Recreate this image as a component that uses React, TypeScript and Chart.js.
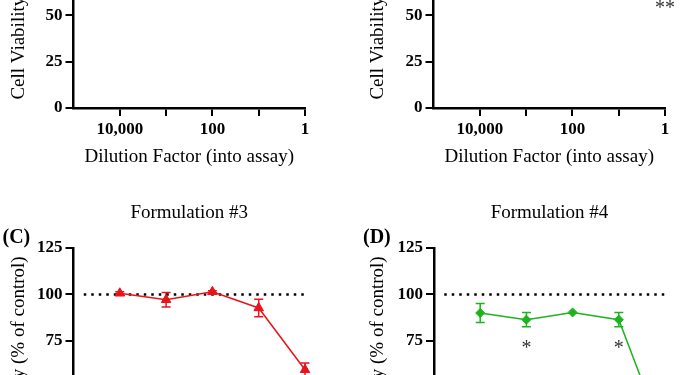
import React, { useEffect, useRef } from 'react';
import { Chart, registerables } from 'chart.js';

Chart.register(...registerables);

// ---------- data ----------
const dilutionFactors = [10000, 1000, 100, 10, 1];
const xTickValues = [10000, 1000, 100, 10, 1];
const xTickLabels = ['10,000', '', '100', '', '1'];
const xMin = 1;
const xMax = 100000;
const yMin = 0;
const yMax = 125;
const yStep = 25;
const controlLevel = 100;
const controlLineFrom = 60000;
const controlLineTo = 1;

const xAxisTitle = 'Dilution Factor (into assay)';
const yAxisTitle = 'Cell Viability (% of control)';

// Formulation #3 (panel C)
const f3Mean = [100.6, 97.1, 101.4, 92.7, 59.4];
const f3Err = [0.8, 3.9, 0.6, 4.7, 3.6];
// Formulation #4 (panel D)
const f4Mean = [90.0, 86.4, 90.3, 86.4, 21.0];
const f4Err = [5.1, 3.8, 0, 3.8, 4.0];
const f4SigDilutions = [1000, 10];
const f4SigLevels = [70.5, 70.5];
const f4SigLabels = ['*', '*'];
// panel B significance mark
const f2SigDilutions = [1];
const f2SigLevels = [53.5];
const f2SigLabels = ['**'];

const FONT = "'Liberation Serif', 'Times New Roman', serif";

const decorPlugin = {
  id: 'decor',
  beforeDatasetsDraw(chart: any) {
    const ctx = chart.ctx;
    const xs = chart.scales.x;
    const ys = chart.scales.y;
    chart.data.datasets.forEach((ds: any) => {
      const errs = ds.errorBars;
      if (!errs) return;
      ctx.save();
      ctx.strokeStyle = ds.borderColor;
      ctx.lineWidth = 1.5;
      ds.data.forEach((p: any, j: number) => {
        const e = errs[j];
        if (!e) return;
        const px = xs.getPixelForValue(p.x);
        const y1 = ys.getPixelForValue(p.y + e);
        const y2 = ys.getPixelForValue(p.y - e);
        ctx.beginPath();
        ctx.moveTo(px, y1);
        ctx.lineTo(px, y2);
        ctx.moveTo(px - 4.5, y1);
        ctx.lineTo(px + 4.5, y1);
        ctx.moveTo(px - 4.5, y2);
        ctx.lineTo(px + 4.5, y2);
        ctx.stroke();
      });
      ctx.restore();
    });
  },
  afterDraw(chart: any, _args: any, opts: any) {
    const { ctx, chartArea } = chart;
    const xs = chart.scales.x;
    const ys = chart.scales.y;
    ctx.save();
    ctx.fillStyle = '#000';
    ctx.textBaseline = 'middle';
    if (opts.title) {
      ctx.font = `19px ${FONT}`;
      ctx.textAlign = 'center';
      ctx.fillText(opts.title, (chartArea.left + chartArea.right) / 2, chartArea.top - 35);
    }
    if (opts.letter) {
      ctx.font = `bold 20px ${FONT}`;
      ctx.textAlign = 'left';
      ctx.fillText(opts.letter, chartArea.left - 71, chartArea.top - 10);
    }
    const marks = opts.marks;
    if (marks) {
      ctx.font = `20px ${FONT}`;
      ctx.fillStyle = '#333';
      ctx.textAlign = 'center';
      marks.x.forEach((xv: number, i: number) => {
        ctx.fillText(marks.text[i], xs.getPixelForValue(xv), ys.getPixelForValue(marks.y[i]));
      });
    }
    ctx.restore();
  },
};

type Layout = {
  left: number;
  top: number;
  width: number;
  height: number;
  yAxisWidth: number;
  xAxisHeight: number;
  padTop: number;
  padRight: number;
  yTitlePad: number;
};

type PanelCfg = {
  layout: Layout;
  title?: string;
  letter?: string;
  mean?: number[];
  err?: number[];
  color?: string;
  pointStyle?: string;
  pointRadius?: number;
  marks?: { x: number[]; y: number[]; text: string[] };
};

function buildConfig(p: PanelCfg): any {
  const L = p.layout;
  const datasets: any[] = [];
  if (p.mean) {
    datasets.push({
      data: dilutionFactors.map((d, i) => ({ x: d, y: p.mean![i] })),
      errorBars: p.err,
      borderColor: p.color,
      backgroundColor: p.color,
      borderWidth: 1.5,
      showLine: true,
      pointStyle: p.pointStyle,
      pointRadius: p.pointRadius,
      pointBorderWidth: 1,
      clip: false,
    });
  }
  datasets.push({
    data: [
      { x: controlLineFrom, y: controlLevel },
      { x: controlLineTo, y: controlLevel },
    ],
    borderColor: '#000',
    borderWidth: 2.5,
    borderDash: [2.5, 5],
    pointRadius: 0,
    showLine: true,
    clip: false,
  });
  const tickFont = { family: FONT, size: 17, weight: 'bold' };
  const grid = {
    drawOnChartArea: false,
    drawTicks: true,
    tickLength: 8,
    tickWidth: 2,
    tickColor: '#000',
    color: '#000',
    lineWidth: 2,
  };
  const border = { display: true, color: '#000', width: 2.5 };
  return {
    type: 'scatter',
    data: { datasets },
    plugins: [decorPlugin],
    options: {
      responsive: false,
      animation: false,
      devicePixelRatio: 1,
      events: [],
      layout: { padding: { top: L.padTop, right: L.padRight, left: 0, bottom: 0 } },
      plugins: {
        legend: { display: false },
        tooltip: { enabled: false },
        title: { display: false },
        decor: { title: p.title, letter: p.letter, marks: p.marks },
      },
      scales: {
        x: {
          type: 'logarithmic',
          reverse: true,
          min: xMin,
          max: xMax,
          position: 'bottom',
          afterBuildTicks: (s: any) => {
            s.ticks = xTickValues.map((v) => ({ value: v }));
          },
          afterFit: (s: any) => {
            s.height = L.xAxisHeight;
          },
          ticks: {
            autoSkip: false,
            maxRotation: 0,
            minRotation: 0,
            padding: 3,
            color: '#000',
            font: tickFont,
            callback: (v: any) => {
              const i = xTickValues.indexOf(Number(v));
              return i >= 0 ? xTickLabels[i] : '';
            },
          },
          grid,
          border,
          title: {
            display: true,
            text: xAxisTitle,
            color: '#000',
            font: { family: FONT, size: 19, lineHeight: 1 },
            padding: { top: 0, bottom: 13.5 },
          },
        },
        y: {
          type: 'linear',
          min: yMin,
          max: yMax,
          position: 'left',
          afterFit: (s: any) => {
            s.width = L.yAxisWidth;
          },
          ticks: { stepSize: yStep, padding: 3, color: '#000', font: tickFont },
          grid,
          border,
          title: {
            display: true,
            text: yAxisTitle,
            color: '#000',
            font: { family: FONT, size: 19, lineHeight: 1 },
            padding: { top: L.yTitlePad, bottom: 0 },
          },
        },
      },
    },
  };
}

function Panel({ cfg }: { cfg: PanelCfg }) {
  const ref = useRef<HTMLCanvasElement>(null);
  useEffect(() => {
    const chart = new Chart(ref.current as HTMLCanvasElement, buildConfig(cfg));
    return () => chart.destroy();
  }, [cfg]);
  const L = cfg.layout;
  return (
    <canvas
      ref={ref}
      width={L.width}
      height={L.height}
      style={{ position: 'absolute', left: L.left, top: L.top, width: L.width, height: L.height }}
    />
  );
}

const panelA: PanelCfg = {
  layout: { left: 0, top: -200, width: 340, height: 380, yAxisWidth: 73.5, xAxisHeight: 72, padTop: 76, padRight: 35, yTitlePad: 10 },
};
const panelB: PanelCfg = {
  layout: { left: 340, top: -200, width: 345, height: 380, yAxisWidth: 93.5, xAxisHeight: 72, padTop: 76, padRight: 20, yTitlePad: 28.3 },
  marks: { x: f2SigDilutions, y: f2SigLevels, text: f2SigLabels },
};
const panelC: PanelCfg = {
  layout: { left: 0, top: 180, width: 340, height: 372, yAxisWidth: 73.5, xAxisHeight: 72, padTop: 68, padRight: 35, yTitlePad: 10 },
  title: 'Formulation #3',
  letter: '(C)',
  mean: f3Mean,
  err: f3Err,
  color: '#e8141c',
  pointStyle: 'triangle',
  pointRadius: 5.5,
};
const panelD: PanelCfg = {
  layout: { left: 340, top: 180, width: 345, height: 372, yAxisWidth: 94, xAxisHeight: 72, padTop: 68, padRight: 20, yTitlePad: 28.3 },
  title: 'Formulation #4',
  letter: '(D)',
  mean: f4Mean,
  err: f4Err,
  color: '#1db31d',
  pointStyle: 'rectRot',
  pointRadius: 4.5,
  marks: { x: f4SigDilutions, y: f4SigLevels, text: f4SigLabels },
};

export default function App() {
  return (
    <div
      style={{
        position: 'fixed',
        left: 0,
        top: 0,
        width: 685,
        height: 375,
        overflow: 'hidden',
        background: '#fff',
      }}
    >
      <Panel cfg={panelA} />
      <Panel cfg={panelB} />
      <Panel cfg={panelC} />
      <Panel cfg={panelD} />
    </div>
  );
}
